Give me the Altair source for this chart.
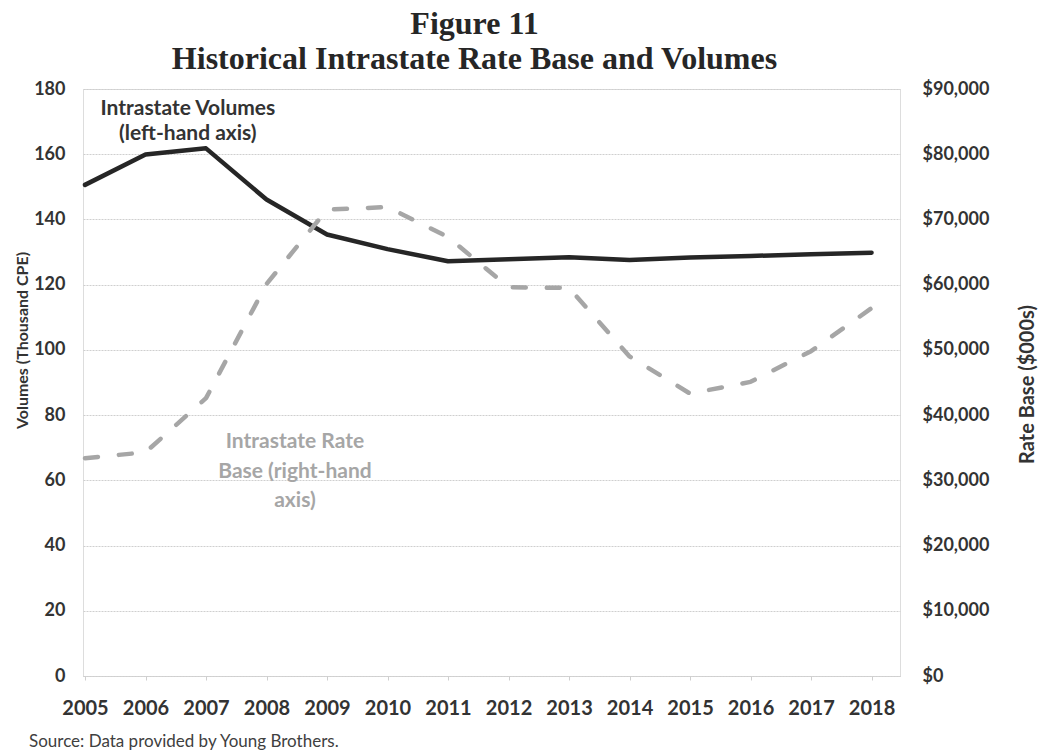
import altair as alt
import pandas as pd

# Annual series, 2005-2018
years = list(range(2005, 2019))
volumes = [150.6, 159.9, 161.8, 146.1, 135.4, 130.9, 127.2,
           127.8, 128.4, 127.6, 128.3, 128.8, 129.3, 129.8]          # thousand CPE
rate_base = [33400, 34300, 42600, 60100, 71500, 71900, 67300,
             59600, 59500, 49000, 43300, 45100, 49800, 56400]       # $000s

vol_ticks = [0, 20, 40, 60, 80, 100, 120, 140, 160, 180]
rate_ticks = [0, 10000, 20000, 30000, 40000, 50000, 60000, 70000, 80000, 90000]

# In-chart series labels (placed in data coordinates of the volume axis)
vol_label_lines = ["Intrastate Volumes", "(left-hand axis)"]
vol_label_x = [2006.70, 2006.70]
vol_label_y = [173.9, 166.2]

rate_label_lines = ["Intrastate Rate", "Base (right-hand", "axis)"]
rate_label_x = [2008.47, 2008.47, 2008.47]
rate_label_y = [71.8, 62.5, 53.6]

source_note = "Source: Data provided by Young Brothers."

df = pd.DataFrame({"year": years, "volume": volumes, "rate": rate_base})
vol_lab = pd.DataFrame({"x": vol_label_x, "y": vol_label_y, "t": vol_label_lines})
rate_lab = pd.DataFrame({"x": rate_label_x, "y": rate_label_y, "t": rate_label_lines})

FONT = "Lato"
INK = "#333333"
GRID = "#cfcfcf"

x_enc = alt.X(
    "year:Q",
    scale=alt.Scale(domain=[2004.967, 2018.47], nice=False, zero=False),
    axis=alt.Axis(
        values=years, format="d", title=None, grid=False,
        labelFont=FONT, labelFontSize=20, labelFontWeight="bold", labelColor=INK,
        labelPadding=18, labelFlush=False,
        domain=True, domainColor=GRID, domainDash=[2, 1], domainWidth=1,
        ticks=True, tickColor=GRID, tickSize=4, tickWidth=1,
    ),
)

vol_scale = alt.Scale(domain=[0, 180], nice=False, zero=True)

volume_line = alt.Chart(df).mark_line(
    color="#262626", strokeWidth=4.5, strokeJoin="round", strokeCap="round"
).encode(
    x=x_enc,
    y=alt.Y(
        "volume:Q", scale=vol_scale,
        axis=alt.Axis(
            orient="left", values=vol_ticks, format="d",
            title="Volumes (Thousand CPE)", titleFont=FONT, titleFontSize=16,
            titleFontWeight="bold", titleColor=INK, titleAngle=-90,
            titleX=-61, titleY=251, titleAlign="center", titleBaseline="middle",
            labelFont=FONT, labelFontSize=18, labelFontWeight="bold", labelColor=INK,
            labelPadding=18, domain=False, ticks=False,
            grid=True, gridColor=GRID, gridDash=[2, 1], gridWidth=1,
        ),
    ),
)

rate_line = alt.Chart(df).mark_line(
    color="#a6a6a6", strokeWidth=4.5, strokeDash=[13, 21], strokeCap="round",
    strokeJoin="round",
).encode(
    x=alt.X("year:Q"),
    y=alt.Y(
        "rate:Q", scale=alt.Scale(domain=[0, 90000], nice=False, zero=True),
        axis=alt.Axis(
            orient="right", values=rate_ticks, format="$,.0f",
            title="Rate Base ($000s)", titleFont=FONT, titleFontSize=20,
            titleFontWeight="bold", titleColor=INK, titleAngle=270,
            titleX=127, titleY=295, titleAlign="center", titleBaseline="middle",
            labelFont=FONT, labelFontSize=18, labelFontWeight="bold", labelColor=INK,
            labelPadding=22, domain=False, ticks=False, grid=False,
        ),
    ),
)

vol_text = alt.Chart(vol_lab).mark_text(
    font=FONT, fontSize=21, fontWeight="bold", color="#333333", align="center",
    baseline="middle",
).encode(
    x=alt.X("x:Q"),
    y=alt.Y("y:Q", scale=vol_scale, axis=None),
    text="t:N",
)

rate_text = alt.Chart(rate_lab).mark_text(
    font=FONT, fontSize=21, fontWeight="bold", color="#a6a6a6", align="center",
    baseline="middle",
).encode(
    x=alt.X("x:Q"),
    y=alt.Y("y:Q", scale=vol_scale, axis=None),
    text="t:N",
)

source = alt.Chart(pd.DataFrame({"t": [source_note]})).mark_text(
    font=FONT, fontSize=17, color="#404040", align="left", baseline="middle",
).encode(
    x=alt.value(-54),
    y=alt.value(653),
    text="t:N",
)

chart = (
    alt.layer(volume_line, rate_line, vol_text, rate_text, source)
    .resolve_scale(y="independent")
    .properties(
        width=817,
        height=587,
        autosize=alt.AutoSizeParams(type="none"),
        padding={"left": 83, "top": 89, "right": 142, "bottom": 75},
        title=alt.TitleParams(
            ["Figure 11", "Historical Intrastate Rate Base and Volumes"],
            font="Liberation Serif", fontSize=32, fontWeight="bold",
            color="#262626", lineHeight=35, anchor="middle", dx=-17,
            offset=4,
        ),
    )
    .configure_view(stroke=None)
    .configure(background="white")
)

chart.save("out.html", embed_options={"renderer": "svg", "actions": False})
